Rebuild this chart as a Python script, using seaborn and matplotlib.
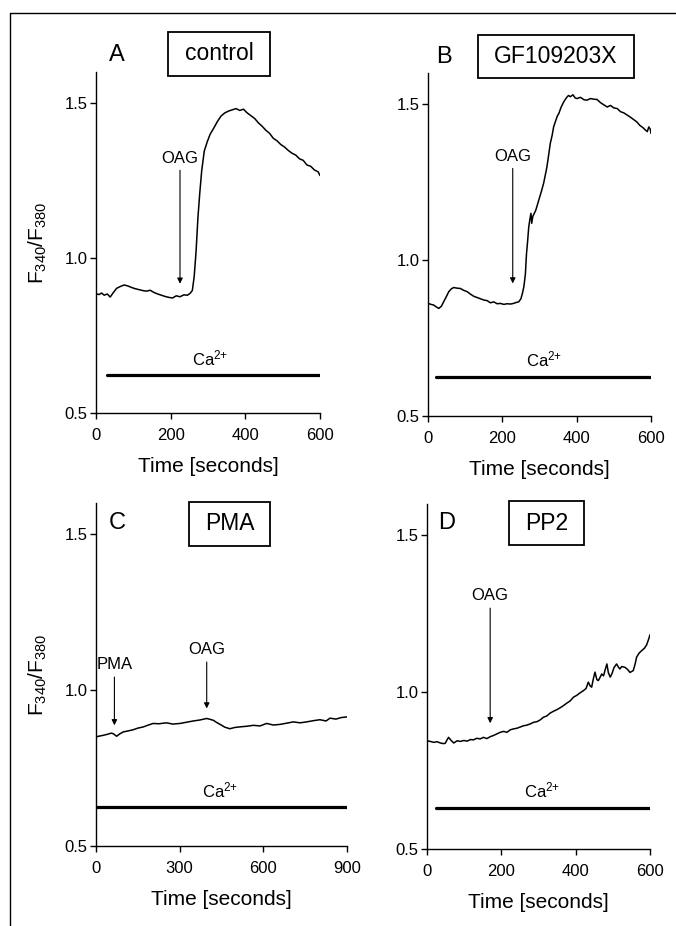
import numpy as np
import pandas as pd
import matplotlib
matplotlib.use("Agg")
import matplotlib.pyplot as plt
import seaborn as sns
from matplotlib.patches import Rectangle
from matplotlib.lines import Line2D

sns.set_theme(style="ticks")
plt.rcParams['font.family'] = ['Liberation Sans', 'DejaVu Sans']
plt.rcParams['mathtext.default'] = 'regular'
plt.rcParams['text.color'] = 'black'
plt.rcParams['axes.labelcolor'] = 'black'
plt.rcParams['xtick.color'] = 'black'
plt.rcParams['ytick.color'] = 'black'

# ---------------- data ----------------
t_A = [0, 8, 15, 22, 30, 38, 45, 55, 65, 75, 85, 95, 105, 115, 125, 135, 145, 155, 165, 175,
       185, 195, 205, 215, 225, 235, 245, 252, 258, 263, 268, 273, 278, 283, 290, 298, 306, 315,
       325, 335, 345, 355, 365, 375, 385, 395, 405, 415, 425, 435, 445, 455, 465, 475, 485, 495,
       505, 515, 525, 535, 545, 555, 565, 575, 585, 595, 600]
v_A = [0.885, 0.882, 0.887, 0.880, 0.884, 0.874, 0.886, 0.902, 0.908, 0.913, 0.910, 0.905, 0.901,
       0.898, 0.895, 0.893, 0.896, 0.889, 0.884, 0.880, 0.876, 0.873, 0.871, 0.878, 0.875, 0.881,
       0.880, 0.886, 0.895, 0.940, 1.020, 1.130, 1.210, 1.280, 1.345, 1.375, 1.400, 1.418, 1.440,
       1.458, 1.468, 1.474, 1.478, 1.482, 1.476, 1.480, 1.468, 1.459, 1.450, 1.436, 1.425, 1.412,
       1.402, 1.386, 1.378, 1.366, 1.358, 1.347, 1.338, 1.332, 1.320, 1.315, 1.300, 1.296, 1.284,
       1.278, 1.266]

t_B = [0, 8, 15, 22, 29, 36, 42, 49, 56, 63, 69, 78, 87, 96, 105, 114, 123, 132, 141, 150, 159,
       168, 177, 186, 195, 204, 213, 222, 230, 237, 244, 250, 254, 258, 262, 265, 268, 271, 274,
       277, 279, 282, 286, 290, 295, 300, 305, 311, 316, 320, 325, 329, 334, 338, 343, 348, 352,
       358, 365, 372, 378, 383, 390, 396, 401, 410, 420, 428, 437, 446, 455, 464, 473, 482, 491,
       500, 509, 518, 527, 536, 545, 554, 562, 570, 578, 585, 590, 594, 598, 600]
v_B = [0.861, 0.858, 0.856, 0.850, 0.845, 0.852, 0.866, 0.882, 0.899, 0.908, 0.912, 0.910, 0.909,
       0.903, 0.899, 0.891, 0.884, 0.880, 0.876, 0.872, 0.870, 0.863, 0.866, 0.860, 0.861, 0.858,
       0.860, 0.859, 0.861, 0.864, 0.866, 0.876, 0.893, 0.915, 0.955, 1.020, 1.060, 1.105, 1.130,
       1.150, 1.118, 1.140, 1.150, 1.160, 1.180, 1.200, 1.220, 1.246, 1.275, 1.299, 1.340, 1.374,
       1.400, 1.427, 1.445, 1.462, 1.470, 1.490, 1.507, 1.520, 1.528, 1.524, 1.530, 1.520, 1.518,
       1.522, 1.514, 1.513, 1.518, 1.516, 1.515, 1.505, 1.498, 1.491, 1.496, 1.488, 1.486, 1.476,
       1.472, 1.465, 1.458, 1.450, 1.443, 1.432, 1.425, 1.417, 1.412, 1.427, 1.420, 1.406]

t_C = [0, 15, 26, 40, 55, 62, 74, 86, 98, 115, 134, 150, 170, 188, 205, 225, 253, 275, 301, 325,
       349, 372, 397, 410, 421, 433, 445, 462, 480, 497, 516, 540, 564, 588, 612, 636, 660, 684,
       708, 732, 755, 780, 803, 825, 839, 860, 880, 900]
v_C = [0.850, 0.853, 0.855, 0.858, 0.862, 0.860, 0.852, 0.860, 0.866, 0.869, 0.873, 0.878, 0.882,
       0.888, 0.893, 0.892, 0.895, 0.891, 0.893, 0.897, 0.901, 0.904, 0.909, 0.906, 0.903, 0.896,
       0.890, 0.881, 0.876, 0.880, 0.882, 0.884, 0.887, 0.885, 0.893, 0.888, 0.890, 0.894, 0.898,
       0.895, 0.898, 0.902, 0.905, 0.901, 0.910, 0.907, 0.912, 0.914]

t_D = [0, 9, 18, 27, 36, 44, 49, 54, 58, 65, 72, 81, 90, 99, 108, 117, 125, 134, 143, 152, 161,
       170, 179, 188, 197, 206, 215, 224, 233, 242, 251, 260, 269, 278, 287, 296, 305, 313, 322,
       331, 340, 349, 358, 367, 376, 385, 394, 403, 412, 421, 428, 434, 439, 443, 448, 452, 457,
       461, 466, 470, 475, 479, 484, 488, 493, 498, 503, 510, 515, 519, 524, 533, 540, 546, 551,
       555, 560, 564, 571, 578, 585, 591, 596, 600]
v_D = [0.845, 0.843, 0.840, 0.842, 0.838, 0.836, 0.837, 0.848, 0.856, 0.846, 0.838, 0.845, 0.843,
       0.846, 0.844, 0.849, 0.848, 0.853, 0.851, 0.856, 0.852, 0.858, 0.862, 0.867, 0.872, 0.875,
       0.872, 0.880, 0.883, 0.885, 0.889, 0.893, 0.895, 0.899, 0.904, 0.906, 0.912, 0.920, 0.924,
       0.933, 0.939, 0.944, 0.950, 0.957, 0.965, 0.972, 0.984, 0.990, 0.998, 1.005, 1.012, 1.032,
       1.020, 1.016, 1.045, 1.064, 1.040, 1.037, 1.048, 1.058, 1.052, 1.070, 1.090, 1.062, 1.048,
       1.060, 1.078, 1.090, 1.080, 1.074, 1.082, 1.079, 1.072, 1.063, 1.066, 1.069, 1.090, 1.112,
       1.125, 1.133, 1.140, 1.151, 1.168, 1.183]

# Ca2+ bars: [start, end] time and level
ca_A = ([30, 600], 0.622)
ca_B = ([22, 600], 0.626)
ca_C = ([0, 900], 0.625)
ca_D = ([25, 598], 0.632)
ca_label_t = [305, 311, 445, 309]

panel_letters = ["A", "B", "C", "D"]
panel_titles = ["control", "GF109203X", "PMA", "PP2"]
x_ticks = [[0, 200, 400, 600], [0, 200, 400, 600], [0, 300, 600, 900], [0, 200, 400, 600]]
y_ticks = [0.5, 1.0, 1.5]

# arrows: (label, time, tail value, tip value)
arrows_A = [("OAG", 225, 1.283, 0.917)]
arrows_B = [("OAG", 228, 1.294, 0.925)]
arrows_C = [("PMA", 66, 1.042, 0.887), ("OAG", 397, 1.090, 0.941)]
arrows_D = [("OAG", 170, 1.268, 0.901)]

# ---------------- layout ----------------
W, H = 676, 926
fig = plt.figure(figsize=(W / 100, H / 100), dpi=100)


def rect(l, t, r, b):
    return [l / W, 1 - b / H, (r - l) / W, (b - t) / H]


ax_rects = [rect(96, 72, 320, 413), rect(428, 73, 651, 416),
            rect(96, 503, 347, 846), rect(427, 504, 650, 849)]
box_px = [(168, 32, 270, 76), (478, 35, 634, 78), (189, 502, 270, 546), (509, 501, 584, 545)]
letter_px = [(117, 55), (444, 57), (117, 523), (447, 523)]

traces = [(t_A, v_A), (t_B, v_B), (t_C, v_C), (t_D, v_D)]
cas = [ca_A, ca_B, ca_C, ca_D]
arrows = [arrows_A, arrows_B, arrows_C, arrows_D]
xmax = [600, 600, 900, 600]

for i in range(4):
    ax = fig.add_axes(ax_rects[i])
    df = pd.DataFrame({"t": traces[i][0], "v": traces[i][1]})
    sns.lineplot(data=df, x="t", y="v", ax=ax, color="black", lw=1.1, estimator=None)
    ca_t, ca_v = cas[i]
    sns.lineplot(x=ca_t, y=[ca_v, ca_v], ax=ax, color="black", lw=2.3, estimator=None)
    ax.text(ca_label_t[i], ca_v + 0.022, "Ca$^{2{+}}$", ha="center", va="bottom", fontsize=12)
    for lab, tx, ytail, ytip in arrows[i]:
        ax.annotate("", xy=(tx, ytip), xytext=(tx, ytail),
                    arrowprops=dict(arrowstyle="-|>", color="black", lw=0.8,
                                    mutation_scale=8, shrinkA=0, shrinkB=0))
        ax.text(tx, ytail + 0.015, lab, ha="center", va="bottom", fontsize=12)
    ax.set_xlim(0, xmax[i])
    ax.set_ylim(0.5, 1.6)
    ax.set_xticks(x_ticks[i])
    ax.set_xticklabels([str(v) for v in x_ticks[i]])
    ax.set_yticks(y_ticks)
    ax.set_yticklabels(["0.5", "1.0", "1.5"])
    ax.tick_params(direction="out", length=4, width=1, labelsize=12, colors="black")
    ax.tick_params(axis="x", pad=7)
    ax.tick_params(axis="y", pad=2)
    sns.despine(ax=ax)
    for s in ["left", "bottom"]:
        ax.spines[s].set_color("black")
        ax.spines[s].set_linewidth(1.0)
    ax.set_xlabel("Time [seconds]", fontsize=15, labelpad=10, color="black")
    if i in (0, 2):
        ax.set_ylabel("F$_{340}$/F$_{380}$", fontsize=15, labelpad=11, color="black")
    else:
        ax.set_ylabel("")
    ax.set_facecolor("white")

    # title box
    l, t, r, b = box_px[i]
    fig.add_artist(Rectangle((l / W, 1 - b / H), (r - l) / W, (b - t) / H,
                             transform=fig.transFigure, fill=False, lw=1.3, ec="black"))
    fig.text((l + r) / 2 / W, 1 - (t + b) / 2 / H, panel_titles[i], ha="center", va="center",
             fontsize=16.5, color="black")
    lx, ly = letter_px[i]
    fig.text(lx / W, 1 - ly / H, panel_letters[i], ha="center", va="center", fontsize=17,
             color="black")

# outer frame lines (top and left)
fig.add_artist(Line2D([10 / W, 1.0], [1 - 12.5 / H, 1 - 12.5 / H], transform=fig.transFigure,
                      color="black", lw=1.0))
fig.add_artist(Line2D([10 / W, 10 / W], [0, 1 - 12.5 / H], transform=fig.transFigure,
                      color="black", lw=1.0))

fig.savefig("out.png", dpi=100, facecolor="white")
